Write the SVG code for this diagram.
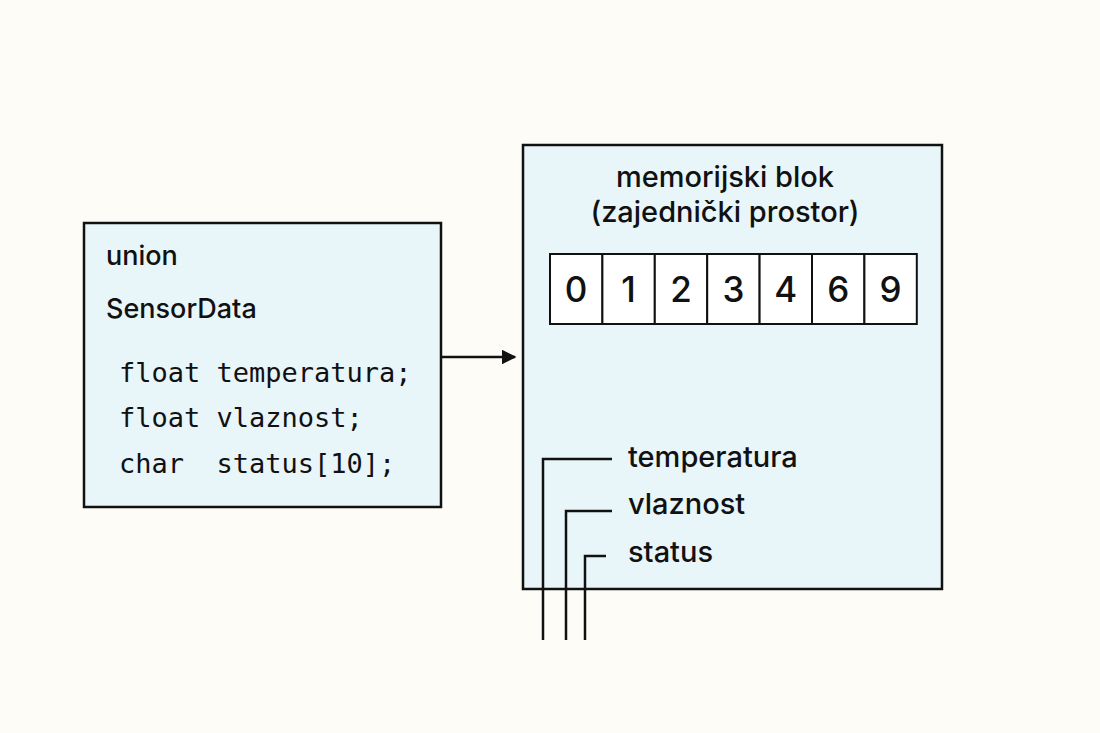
<svg xmlns="http://www.w3.org/2000/svg" width="1100" height="733" viewBox="0 0 1100 733">
<defs>
<style>
.box{fill:#e8f5f9;stroke:#111;stroke-width:2.5}
.cell{fill:#fff;stroke:#111;stroke-width:2}
.t{font-family:Inter,"Noto Sans",sans-serif;fill:#111;font-weight:500}
.m{font-family:"DejaVu Sans Mono","Liberation Mono",monospace;fill:#111;font-size:27px}
.ln{fill:none;stroke:#111;stroke-width:2.5}
</style>
<marker id="ah" viewBox="0 0 10 10" refX="9" refY="5" markerWidth="6" markerHeight="6" orient="auto"><path d="M0,0L10,5L0,10z" fill="#111"/></marker>
</defs>
<rect width="1100" height="733" fill="#fdfcf7"/>
<g id="union">
<rect class="box" x="84" y="223" width="357" height="284"/>
<text class="t" x="106" y="265" font-size="27" font-weight="600">union</text>
<text class="t" x="106" y="318" font-size="27" font-weight="600">SensorData</text>
<text class="m" x="119" y="382" xml:space="preserve">float temperatura;</text>
<text class="m" x="119" y="427" xml:space="preserve">float vlaznost;</text>
<text class="m" x="119" y="473" xml:space="preserve">char  status[10];</text>
</g>
<g id="memory">
<rect class="box" x="523" y="145" width="419" height="444"/>
<text class="t" x="725" y="187" font-size="29" text-anchor="middle">memorijski blok</text>
<text class="t" x="725" y="222" font-size="29" text-anchor="middle">(zajednički prostor)</text>
<g class="t" font-size="35" text-anchor="middle">
<rect class="cell" x="550" y="254" width="52.4" height="70"/><text x="576" y="302">0</text>
<rect class="cell" x="602.4" y="254" width="52.4" height="70"/><text x="628.6" y="302">1</text>
<rect class="cell" x="654.8" y="254" width="52.4" height="70"/><text x="681" y="302">2</text>
<rect class="cell" x="707.2" y="254" width="52.4" height="70"/><text x="733.4" y="302">3</text>
<rect class="cell" x="759.6" y="254" width="52.4" height="70"/><text x="785.8" y="302">4</text>
<rect class="cell" x="812" y="254" width="52.4" height="70"/><text x="838.2" y="302">6</text>
<rect class="cell" x="864.4" y="254" width="52.4" height="70"/><text x="890.6" y="302">9</text>
</g>
<text class="t" x="628" y="467" font-size="29">temperatura</text>
<text class="t" x="628" y="514" font-size="29">vlaznost</text>
<text class="t" x="628" y="562" font-size="29">status</text>
</g>
<g id="connectors">
<line class="ln" x1="441" y1="357" x2="515" y2="357" marker-end="url(#ah)"/>
<path class="ln" d="M543,640V459H612"/>
<path class="ln" d="M566,640V511H612"/>
<path class="ln" d="M585,640V556H606"/>
</g>
</svg>
